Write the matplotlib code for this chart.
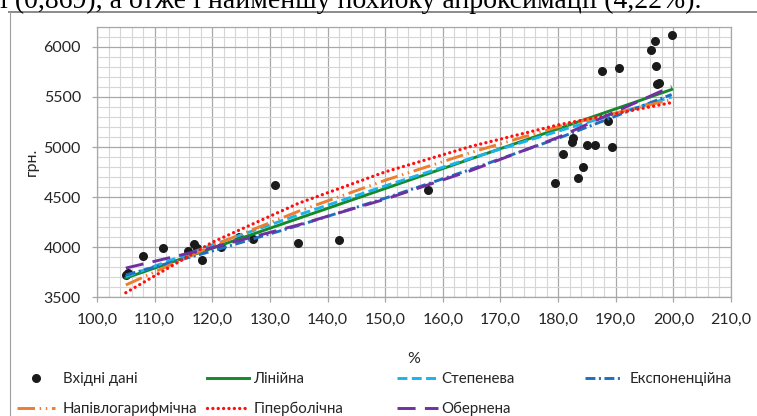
import numpy as np
import matplotlib
matplotlib.use("Agg")
import matplotlib.pyplot as plt
from matplotlib.lines import Line2D
from matplotlib.ticker import MultipleLocator, FuncFormatter

# ---- data ----
x_pts = [105.1, 105.3, 108.0, 111.5, 115.8, 116.9, 117.4, 118.3, 121.6, 124.6, 127.0,
         130.9, 134.9, 142.0, 157.5, 179.5, 180.9, 182.4, 182.6, 183.5, 184.3, 185.1,
         186.4, 187.7, 188.6, 189.4, 190.5, 196.2, 196.8, 197.0, 197.1, 197.5, 199.7]
y_pts = [3720, 3740, 3915, 3990, 3965, 4030, 3995, 3875, 4005, 4105, 4080,
         4620, 4040, 4075, 4575, 4640, 4930, 5055, 5095, 4690, 4805, 5025,
         5025, 5765, 5260, 5005, 5790, 5970, 6060, 5810, 5635, 5640, 6125]

x_fit = [105, 120, 135, 150, 165, 180, 199.7]
y_linear = [3690, 3988, 4287, 4585, 4884, 5182, 5575]
y_power = [3703, 4020, 4322, 4611, 4890, 5158, 5500]
y_expo = [3720, 3960, 4216, 4488, 4779, 5087, 5525]
y_semilog = [3620, 4012, 4358, 4667, 4947, 5202, 5475]
y_hyper = [3543, 4047, 4438, 4751, 5008, 5221, 5444]
y_inverse = [3789, 3994, 4222, 4478, 4767, 5096, 5605]

labels = ["Вхідні дані", "Лінійна", "Степенева", "Експоненційна",
          "Напівлогарифмічна", "Гіперболічна", "Обернена"]
top_line = "і (0,869), а отже і найменшу похибку апроксимації (4,22%)."

plt.rcParams["font.family"] = ["Lato", "DejaVu Sans"]
FS = 11.5
LFS = 10.8
W, H = 757, 416
fig = plt.figure(figsize=(W / 100, H / 100), dpi=100)
ax = fig.add_axes([97 / W, 1 - 297 / H, (731 - 97) / W, (297 - 27) / H])

pts, = ax.plot(x_pts, y_pts, "o", color="#1a1a1a", ms=6.5, mec="none", zorder=2)
lw = 2.1
l_lin, = ax.plot(x_fit, y_linear, color="#14892a", lw=lw, zorder=3)
l_pow, = ax.plot(x_fit, y_power, color="#1cb2ea", lw=lw, ls=(0, (3.4, 1.5)), zorder=3)
l_exp, = ax.plot(x_fit, y_expo, color="#1f6fc0", lw=lw, ls=(0, (3.4, 1.2, 0.7, 1.2)), zorder=3)
l_slog, = ax.plot(x_fit, y_semilog, color="#ee7d2f", lw=lw,
                  ls=(0, (6.0, 1.6, 0.5, 1.6, 0.5, 1.6)), zorder=3)
l_hyp, = ax.plot(x_fit, y_hyper, color="#ff1010", lw=2.4, ls=(0, (0.01, 1.6)),
                 dash_capstyle="round", zorder=3)
l_inv, = ax.plot(x_fit, y_inverse, color="#7030a0", lw=lw, ls=(0, (6.2, 3.2)), zorder=3)

ax.set_xlim(100, 210)
ax.set_ylim(3500, 6200)
ax.xaxis.set_major_locator(MultipleLocator(10))
ax.xaxis.set_minor_locator(MultipleLocator(2))
ax.yaxis.set_major_locator(MultipleLocator(500))
ax.yaxis.set_minor_locator(MultipleLocator(100))
ax.xaxis.set_major_formatter(FuncFormatter(lambda v, p: f"{v:.1f}".replace(".", ",")))
ax.yaxis.set_major_formatter(FuncFormatter(lambda v, p: f"{v:.0f}" if v <= 6000 else ""))
ax.grid(which="minor", color="#d6d6d6", lw=0.8, zorder=0)
ax.grid(which="major", color="#a8a8a8", lw=0.9, zorder=0)
ax.set_axisbelow(True)
for s in ax.spines.values():
    s.set_color("#a8a8a8"); s.set_linewidth(0.9)
ax.tick_params(which="major", length=3.6, width=0.9, color="#a8a8a8",
               labelsize=FS, labelcolor="#262626", pad=8)
ax.tick_params(which="minor", length=0)
ax.set_xlabel("%", fontsize=FS, color="#262626", labelpad=18)
ax.set_ylabel("грн.", fontsize=FS, color="#262626", labelpad=3)

# legend: four columns placed like the original
cols = [((pts, l_slog), (labels[0], labels[4]), 17, 2.5, 0.55),
        ((l_lin, l_hyp), (labels[1], labels[5]), 207, 2.8, 0.3),
        ((l_pow, l_inv), (labels[2], labels[6]), 397, 2.7, 0.25),
        ((l_exp,), (labels[3],), 585, 2.3, 0.7)]
for hs, ls_, x0, hl, hp in cols:
    fig.legend(hs, ls_, loc="upper left", bbox_to_anchor=(x0 / W, 1 - 372 / H),
               frameon=False, fontsize=LFS, handlelength=hl, handletextpad=hp,
               borderpad=0, borderaxespad=0, labelspacing=1.05, labelcolor="#262626")

# page context: chart frame and the cut text line above it
fig.add_artist(Line2D([9 / W, 1], [1 - 12 / H] * 2, transform=fig.transFigure,
                      color="#8a8a8a", lw=1.4))
fig.add_artist(Line2D([10 / W] * 2, [0, 1 - 12 / H], transform=fig.transFigure,
                      color="#a0a0a0", lw=0.8))
fig.text(0.0, 1 - 8 / H, top_line, family="Liberation Serif", fontsize=20,
         va="baseline", ha="left", color="black")

fig.savefig("out.png", dpi=100)
